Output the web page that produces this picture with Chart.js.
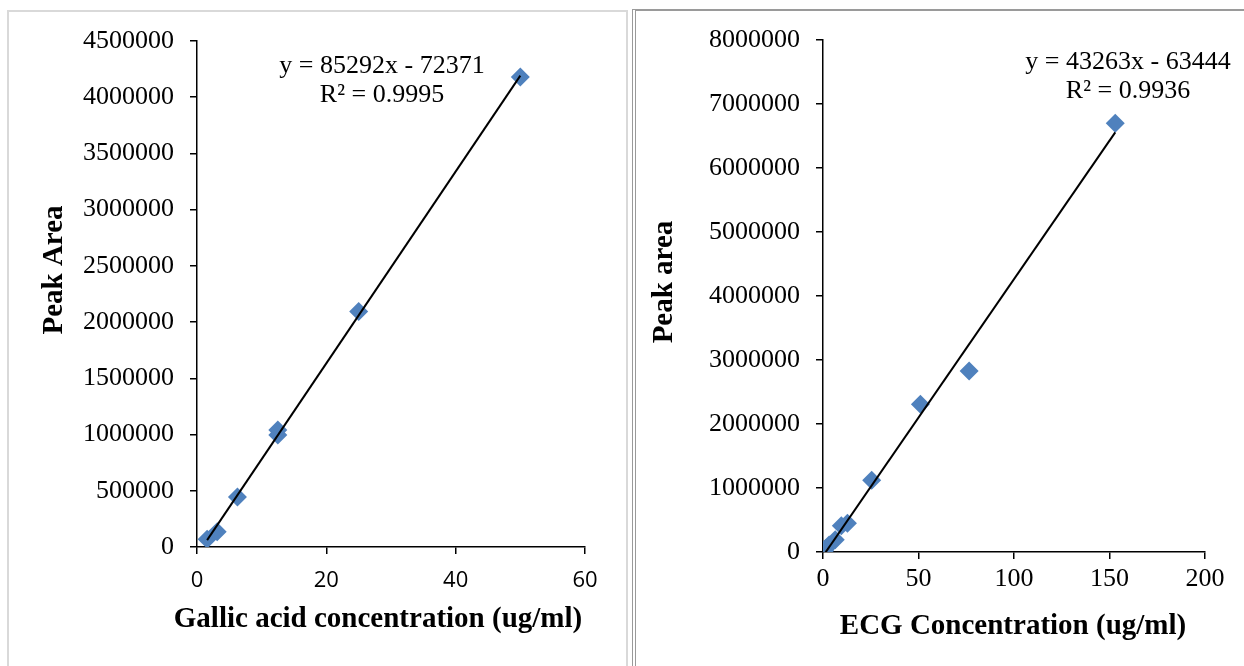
<!DOCTYPE html>
<html>
<head>
<meta charset="utf-8">
<script src="https://cdn.jsdelivr.net/npm/chart.js@4.4.0/dist/chart.umd.min.js"></script>
<style>
  body { margin: 0; background: #fff; }
  #wrap { position: relative; width: 1244px; height: 666px; overflow: hidden; }
  canvas { position: absolute; left: 0; top: 0; }
  .panelL { position: absolute; left: 7px; top: 10px; width: 617px; height: 700px; border: 2px solid #d9d9d9; }
  .panelR { position: absolute; left: 632px; top: 9px; width: 700px; height: 700px; border-top: 2px solid #9a9a9a; border-left: 4px double #9a9a9a; }
</style>
</head>
<body>
<div id="wrap">
  <div class="panelL"></div>
  <div class="panelR"></div>
  <canvas id="gallicChart" width="1244" height="666"></canvas>
  <canvas id="ecgChart" width="1244" height="666"></canvas>
</div>
<script>
// gallic acid standard curve
const gallicConc = [1.5625, 3.125, 6.25, 12.5, 12.5, 25, 50];
const gallicArea = [70000, 135000, 445000, 995000, 1040000, 2095000, 4180000];
const gallicSlope = 85292, gallicIntercept = -72371;
const gallicEq = ['y = 85292x - 72371', 'R² = 0.9995'];
const gallicYTicks = ['0', '500000', '1000000', '1500000', '2000000', '2500000', '3000000', '3500000', '4000000', '4500000'];
const gallicXTicks = ['0', '20', '40', '60'];

// ECG standard curve
const ecgConc = [0.8, 1.6, 3.2, 6.4, 9.6, 12.8, 25.5, 51, 76.5, 153];
const ecgArea = [20000, 60000, 110000, 190000, 410000, 450000, 1120000, 2310000, 2830000, 6700000];
const ecgSlope = 43263, ecgIntercept = -63444;
const ecgEq = ['y = 43263x - 63444', 'R² = 0.9936'];
const ecgYTicks = ['0', '1000000', '2000000', '3000000', '4000000', '5000000', '6000000', '7000000', '8000000'];
const ecgXTicks = ['0', '50', '100', '150', '200'];

const SERIF = '"Liberation Serif", "Times New Roman", serif';
const SANS = '"Open Sans", "Noto Sans", sans-serif';
const BLUE = '#4F81BD';

function trend(xs, slope, icpt) {
    const lo = Math.min(...xs), hi = Math.max(...xs);
    return [{ x: lo, y: slope * lo + icpt }, { x: hi, y: slope * hi + icpt }];
}

// equation label and axis titles drawn on top of the plot
const labels = {
    id: 'labels',
    afterDraw(chart, args, opts) {
        const ctx = chart.ctx;
        ctx.save();
        ctx.fillStyle = '#000';
        ctx.textAlign = 'center';
        ctx.textBaseline = 'middle';
        ctx.font = '26px ' + SERIF;
        opts.eq.forEach((t, i) => ctx.fillText(t, opts.eqX, opts.eqY + i * 29));
        ctx.font = 'bold 29px ' + SERIF;
        ctx.fillText(opts.xTitle, opts.xTitleX, opts.xTitleY);
        ctx.translate(opts.yTitleX, opts.yTitleY);
        ctx.rotate(-Math.PI / 2);
        ctx.fillText(opts.yTitle, 0, 0);
        ctx.restore();
    }
};

function makeChart(id, cfg) {
    const ctx = document.getElementById(id).getContext('2d');
    return new Chart(ctx, {
        type: 'scatter',
        data: {
            datasets: [{
                data: trend(cfg.conc, cfg.slope, cfg.icpt),
                showLine: true,
                borderColor: '#000',
                borderWidth: 2,
                pointRadius: 0
            }, {
                data: cfg.conc.map((c, i) => ({ x: c, y: cfg.area[i] })),
                pointStyle: 'rectRot',
                pointRadius: 9.5,
                backgroundColor: BLUE,
                borderColor: BLUE,
                borderWidth: 0
            }]
        },
        options: {
            responsive: false,
            animation: false,
            layout: { padding: cfg.pad },
            plugins: {
                legend: { display: false },
                tooltip: { enabled: false },
                labels: cfg.text
            },
            scales: {
                x: {
                    min: cfg.xMin, max: cfg.xMax,
                    border: { color: '#000', width: 1.5 },
                    grid: { drawOnChartArea: false, color: '#000', tickLength: 7, lineWidth: 1.5 },
                    ticks: {
                        stepSize: cfg.xStep, color: '#000', padding: cfg.xTickPad,
                        font: cfg.xFont, maxRotation: 0,
                        callback: (v, i) => cfg.xTicks[i]
                    },
                    afterFit: s => { s.height = cfg.xH; }
                },
                y: {
                    min: 0, max: cfg.yMax,
                    border: { color: '#000', width: 1.5 },
                    grid: { drawOnChartArea: false, color: '#000', tickLength: 7, lineWidth: 1.5 },
                    ticks: {
                        stepSize: cfg.yStep, color: '#000', padding: 16,
                        font: { family: SERIF, size: 26 },
                        callback: (v, i) => cfg.yTicks[i]
                    },
                    afterFit: s => { s.width = cfg.yW; }
                }
            }
        },
        plugins: [labels]
    });
}

makeChart('gallicChart', {
    conc: gallicConc, area: gallicArea, slope: gallicSlope, icpt: gallicIntercept,
    xMin: 0, xMax: 60, xStep: 20, yMax: 4500000, yStep: 500000,
    xTicks: gallicXTicks, yTicks: gallicYTicks,
    xFont: { family: SANS, size: 22 }, xTickPad: 14,
    pad: { left: 39, right: 659, top: 41, bottom: 20 },
    yW: 158, xH: 99,
    text: {
        eq: gallicEq, eqX: 382, eqY: 66,
        xTitle: 'Gallic acid concentration (ug/ml)', xTitleX: 378, xTitleY: 620,
        yTitle: 'Peak Area', yTitleX: 55, yTitleY: 270
    }
});

makeChart('ecgChart', {
    conc: ecgConc, area: ecgArea, slope: ecgSlope, icpt: ecgIntercept,
    xMin: 0, xMax: 200, xStep: 50, yMax: 8000000, yStep: 1000000,
    xTicks: ecgXTicks, yTicks: ecgYTicks,
    xFont: { family: SERIF, size: 26 }, xTickPad: 5,
    pad: { left: 649, right: 39, top: 40, bottom: 20 },
    yW: 174, xH: 94,
    text: {
        eq: ecgEq, eqX: 1128, eqY: 62,
        xTitle: 'ECG Concentration (ug/ml)', xTitleX: 1013, xTitleY: 627,
        yTitle: 'Peak area', yTitleX: 665, yTitleY: 282
    }
});
</script>
</body>
</html>
